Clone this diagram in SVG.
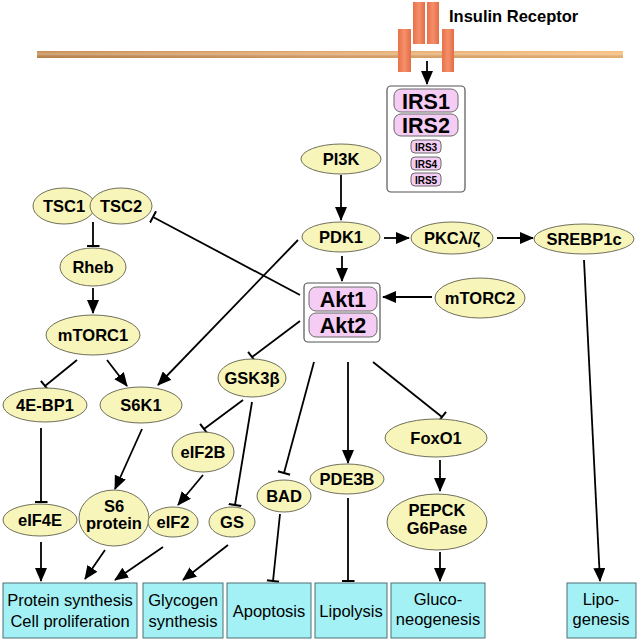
<svg xmlns="http://www.w3.org/2000/svg" width="639" height="641" viewBox="0 0 639 641">
<defs>
<linearGradient id="mem" x1="0" y1="0" x2="1" y2="0">
<stop offset="0" stop-color="#c68b4e"/>
<stop offset="0.5" stop-color="#e3a66a"/>
<stop offset="1" stop-color="#f8bc78"/>
</linearGradient>
<linearGradient id="memv" x1="0" y1="0" x2="0" y2="1">
<stop offset="0" stop-color="#ffffff" stop-opacity="0"/>
<stop offset="0.45" stop-color="#ffffff" stop-opacity="0.25"/>
<stop offset="1" stop-color="#000000" stop-opacity="0.08"/>
</linearGradient>
<linearGradient id="rec" x1="0" y1="0" x2="1" y2="0">
<stop offset="0" stop-color="#e8704a"/>
<stop offset="0.5" stop-color="#f5906a"/>
<stop offset="1" stop-color="#e26c46"/>
</linearGradient>
<marker id="arr" markerUnits="userSpaceOnUse" markerWidth="14" markerHeight="12" viewBox="0 0 14 12" refX="13" refY="6" orient="auto">
<path d="M0,0 L14,6 L0,12 z" fill="#000"/>
</marker>
<marker id="tee" markerUnits="userSpaceOnUse" markerWidth="3" markerHeight="13" viewBox="0 0 3 13" refX="1.5" refY="6.5" orient="auto">
<rect x="0.5" y="0" width="2" height="13" fill="#000"/>
</marker>
</defs>
<style>
.el{fill:#f8f5bb;stroke:#6f6f5a;stroke-width:1}
.pill{fill:#f5ccf4;stroke:#6a6a6a;stroke-width:1}
.frame{fill:#ffffff;stroke:#555555;stroke-width:1.2}
.box{fill:#a3f1f5;stroke:#4f6f74;stroke-width:1}
.lbl{font-family:"Liberation Sans",Arial,sans-serif;font-weight:bold;font-size:16.5px;fill:#000;text-anchor:middle}
.big{font-family:"Liberation Sans",Arial,sans-serif;font-weight:bold;font-size:21.5px;fill:#000;text-anchor:middle}
.sm{font-family:"Liberation Sans",Arial,sans-serif;font-weight:bold;font-size:10px;fill:#000;text-anchor:middle}
.out{font-family:"Liberation Sans",Arial,sans-serif;font-size:16.5px;fill:#000;text-anchor:middle}
.a{stroke:#000;stroke-width:1.8;fill:none;marker-end:url(#arr)}
.t{stroke:#000;stroke-width:1.8;fill:none;marker-end:url(#tee)}
</style>
<rect width="639" height="641" fill="#ffffff"/>

<g id="membrane">
<rect x="37" y="51" width="586" height="7" fill="url(#mem)"/>
<rect x="37" y="51" width="586" height="7" fill="url(#memv)"/>
</g>
<g id="insulin-receptor">
<rect x="398" y="29" width="13" height="43" fill="url(#rec)"/>
<rect x="413" y="2" width="12" height="42" fill="url(#rec)"/>
<rect x="427" y="2" width="12" height="42" fill="url(#rec)"/>
<rect x="442" y="29" width="12" height="43" fill="url(#rec)"/>
<text x="449" y="22" font-family="Liberation Sans, Arial, sans-serif" font-weight="bold" font-size="16.5">Insulin Receptor</text>
</g>

<g id="connectors">
<line class="a" x1="427" y1="61" x2="427" y2="84"/>
<line class="a" x1="341" y1="175" x2="341" y2="220"/>
<line class="a" x1="384" y1="238" x2="409" y2="238"/>
<line class="a" x1="497" y1="238" x2="533" y2="238"/>
<line class="a" x1="342" y1="256" x2="342" y2="281"/>
<line class="a" x1="432" y1="297" x2="383" y2="297"/>
<line class="a" x1="584" y1="260" x2="600" y2="581"/>
<line class="t" x1="300" y1="295" x2="153" y2="217"/>
<line class="a" x1="298" y1="240" x2="158" y2="385"/>
<line class="t" x1="300" y1="321" x2="252" y2="357"/>
<line class="t" x1="314" y1="362" x2="284" y2="473"/>
<line class="a" x1="348" y1="362" x2="348" y2="463"/>
<line class="t" x1="373" y1="362" x2="442" y2="417"/>
<line class="t" x1="93" y1="222" x2="93" y2="246"/>
<line class="a" x1="93" y1="288" x2="93" y2="313"/>
<line class="t" x1="77" y1="360" x2="45" y2="386"/>
<line class="a" x1="107" y1="360" x2="127" y2="386"/>
<line class="t" x1="41" y1="428" x2="41" y2="502"/>
<line class="a" x1="41" y1="542" x2="41" y2="581"/>
<line class="a" x1="142" y1="429" x2="115" y2="489"/>
<line class="a" x1="105" y1="550" x2="85" y2="579"/>
<line class="a" x1="163" y1="547" x2="115" y2="580"/>
<line class="t" x1="243" y1="400" x2="204" y2="429"/>
<line class="t" x1="252" y1="402" x2="235" y2="505"/>
<line class="a" x1="203" y1="475" x2="178" y2="505"/>
<line class="a" x1="228" y1="545" x2="183" y2="580"/>
<line class="t" x1="280" y1="514" x2="273" y2="581"/>
<line class="t" x1="348" y1="498" x2="348" y2="581"/>
<line class="a" x1="440" y1="460" x2="440" y2="491"/>
<line class="a" x1="440" y1="552" x2="440" y2="581"/>
</g>

<g id="IRS">
<rect class="frame" x="387" y="86" width="78" height="106" rx="4"/>
<rect class="pill" x="394" y="89" width="64" height="23" rx="7"/>
<text class="big" x="426" y="109">IRS1</text>
<rect class="pill" x="394" y="114" width="64" height="22" rx="7"/>
<text class="big" x="426" y="133">IRS2</text>
<rect class="pill" x="411" y="140" width="30" height="13" rx="4"/>
<text class="sm" x="426" y="151">IRS3</text>
<rect class="pill" x="411" y="157" width="30" height="13" rx="4"/>
<text class="sm" x="426" y="168">IRS4</text>
<rect class="pill" x="411" y="173" width="30" height="13" rx="4"/>
<text class="sm" x="426" y="184">IRS5</text>
</g>

<g id="Akt">
<rect class="frame" x="304" y="283" width="76" height="59" rx="4"/>
<rect class="pill" x="309" y="287" width="68" height="24" rx="7"/>
<text class="big" x="343" y="307">Akt1</text>
<rect class="pill" x="309" y="313" width="68" height="24" rx="7"/>
<text class="big" x="343" y="333">Akt2</text>
</g>

<g id="PI3K"><ellipse class="el" cx="341" cy="159" rx="40" ry="15"/><text class="lbl" x="341" y="165">PI3K</text></g>
<g id="PDK1"><ellipse class="el" cx="341" cy="237" rx="39" ry="15"/><text class="lbl" x="341" y="243">PDK1</text></g>
<g id="PKC"><ellipse class="el" cx="452" cy="238" rx="41" ry="16"/><text class="lbl" x="452" y="244">PKCλ/ζ</text></g>
<g id="SREBP1c"><ellipse class="el" cx="584" cy="239" rx="50" ry="15"/><text class="lbl" x="584" y="245">SREBP1c</text></g>
<g id="mTORC2"><ellipse class="el" cx="480" cy="298" rx="45" ry="20"/><text class="lbl" x="480" y="304">mTORC2</text></g>
<g id="TSC1"><ellipse class="el" cx="64" cy="206" rx="31" ry="18"/><text class="lbl" x="64" y="212">TSC1</text></g>
<g id="TSC2"><ellipse class="el" cx="121" cy="206" rx="31" ry="18"/><text class="lbl" x="121" y="212">TSC2</text></g>
<g id="Rheb"><ellipse class="el" cx="93" cy="267" rx="33" ry="19"/><text class="lbl" x="93" y="273">Rheb</text></g>
<g id="mTORC1"><ellipse class="el" cx="93" cy="335" rx="47" ry="20"/><text class="lbl" x="93" y="341">mTORC1</text></g>
<g id="4E-BP1"><ellipse class="el" cx="45" cy="405" rx="42" ry="17"/><text class="lbl" x="45" y="411">4E-BP1</text></g>
<g id="S6K1"><ellipse class="el" cx="141" cy="405" rx="41" ry="18"/><text class="lbl" x="141" y="411">S6K1</text></g>
<g id="GSK3b"><ellipse class="el" cx="252" cy="378" rx="34" ry="19"/><text class="lbl" x="252" y="384">GSK3β</text></g>
<g id="eIF2B"><ellipse class="el" cx="203" cy="452" rx="31" ry="20"/><text class="lbl" x="203" y="458">eIF2B</text></g>
<g id="eIF4E"><ellipse class="el" cx="40" cy="520" rx="37" ry="16"/><text class="lbl" x="40" y="526">eIF4E</text></g>
<g id="S6protein"><ellipse class="el" cx="114" cy="518" rx="35" ry="28"/><text class="lbl" x="114" y="512">S6</text><text class="lbl" x="114" y="529">protein</text></g>
<g id="eIF2"><ellipse class="el" cx="173" cy="522" rx="25" ry="15"/><text class="lbl" x="173" y="528">eIF2</text></g>
<g id="GS"><ellipse class="el" cx="232" cy="522" rx="23" ry="15"/><text class="lbl" x="232" y="528">GS</text></g>
<g id="BAD"><ellipse class="el" cx="284" cy="496" rx="27" ry="16"/><text class="lbl" x="284" y="502">BAD</text></g>
<g id="PDE3B"><ellipse class="el" cx="347" cy="479" rx="37" ry="15"/><text class="lbl" x="347" y="485">PDE3B</text></g>
<g id="FoxO1"><ellipse class="el" cx="436" cy="438" rx="51" ry="19"/><text class="lbl" x="436" y="444">FoxO1</text></g>
<g id="PEPCK"><ellipse class="el" cx="437" cy="522" rx="50" ry="28"/><text class="lbl" x="437" y="516">PEPCK</text><text class="lbl" x="437" y="534">G6Pase</text></g>

<g id="out-protein"><rect class="box" x="3" y="583" width="134" height="55"/><text class="out" x="70" y="606">Protein synthesis</text><text class="out" x="70" y="627">Cell proliferation</text></g>
<g id="out-glycogen"><rect class="box" x="143" y="583" width="80" height="55"/><text class="out" x="183" y="606">Glycogen</text><text class="out" x="183" y="627">synthesis</text></g>
<g id="out-apoptosis"><rect class="box" x="227" y="583" width="84" height="55"/><text class="out" x="269" y="617">Apoptosis</text></g>
<g id="out-lipolysis"><rect class="box" x="315" y="583" width="72" height="55"/><text class="out" x="351" y="617">Lipolysis</text></g>
<g id="out-gluco"><rect class="box" x="391" y="583" width="94" height="55"/><text class="out" x="438" y="605">Gluco-</text><text class="out" x="438" y="625">neogenesis</text></g>
<g id="out-lipo"><rect class="box" x="567" y="583" width="69" height="55"/><text class="out" x="601" y="605">Lipo-</text><text class="out" x="601" y="625">genesis</text></g>
</svg>
